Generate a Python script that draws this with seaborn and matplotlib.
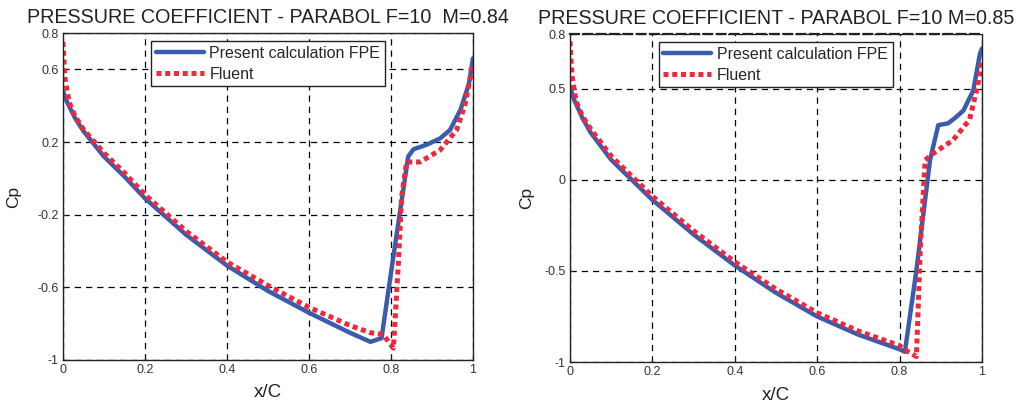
import matplotlib
matplotlib.use("Agg")
import matplotlib.pyplot as plt
import seaborn as sns
import pandas as pd

# ---- M = 0.84 ----
x_fpe_84 = [0.0, 0.01, 0.03, 0.05, 0.10, 0.15, 0.20, 0.30, 0.40, 0.50, 0.60, 0.70, 0.75,
            0.777, 0.80, 0.842, 0.855, 0.887, 0.92, 0.944, 0.97, 0.99, 1.0]
cp_fpe_84 = [0.48, 0.42, 0.33, 0.26, 0.12, 0.01, -0.11, -0.31, -0.48, -0.62, -0.74, -0.85, -0.90,
             -0.88, -0.52, 0.12, 0.16, 0.185, 0.22, 0.266, 0.38, 0.52, 0.66]
x_flu_84 = [0.0, 0.005, 0.015, 0.03, 0.05, 0.10, 0.15, 0.20, 0.30, 0.40, 0.50, 0.60, 0.70, 0.75,
            0.781, 0.806, 0.818, 0.826, 0.838, 0.871, 0.92, 0.96, 0.98, 1.0]
cp_flu_84 = [0.75, 0.55, 0.42, 0.34, 0.27, 0.14, 0.03, -0.09, -0.29, -0.46, -0.59, -0.71, -0.81, -0.85,
             -0.86, -0.935, -0.47, -0.10, 0.09, 0.09, 0.156, 0.266, 0.40, 0.63]

# ---- M = 0.85 ----
x_fpe_85 = [0.0, 0.01, 0.03, 0.05, 0.10, 0.15, 0.20, 0.30, 0.40, 0.50, 0.60, 0.70, 0.80,
            0.813, 0.841, 0.874, 0.894, 0.918, 0.935, 0.955, 0.979, 0.995, 1.0]
cp_fpe_85 = [0.51, 0.44, 0.34, 0.26, 0.11, 0.0, -0.11, -0.30, -0.47, -0.62, -0.75, -0.85, -0.93,
             -0.944, -0.495, 0.108, 0.30, 0.31, 0.34, 0.38, 0.49, 0.69, 0.72]
x_flu_85 = [0.0, 0.005, 0.015, 0.03, 0.05, 0.10, 0.15, 0.20, 0.30, 0.40, 0.50, 0.60, 0.70, 0.80,
            0.821, 0.841, 0.85, 0.862, 0.882, 0.93, 0.97, 0.99, 1.0]
cp_flu_85 = [0.76, 0.57, 0.43, 0.35, 0.28, 0.13, 0.02, -0.09, -0.28, -0.45, -0.60, -0.73, -0.83, -0.91,
             -0.944, -0.97, -0.40, 0.108, 0.145, 0.218, 0.33, 0.52, 0.66]

titles = ["PRESSURE COEFFICIENT - PARABOL F=10  M=0.84",
          "PRESSURE COEFFICIENT - PARABOL F=10 M=0.85"]
yticks_84 = [-1, -0.6, -0.2, 0.2, 0.6, 0.8]
yticks_85 = [-1, -0.5, 0, 0.5, 0.8]
ytick_labels_84 = ["-1", "-0.6", "-0.2", "0.2", "0.6", "0.8"]
ytick_labels_85 = ["-1", "-0.5", "0", "0.5", "0.8"]
xticks = [0, 0.2, 0.4, 0.6, 0.8, 1]
xtick_labels = ["0", "0.2", "0.4", "0.6", "0.8", "1"]
series_names = ["Present calculation FPE", "Fluent"]

BLUE = "#3a5cae"
RED = "#f0283a"

sns.set_style("ticks")
plt.rcParams["font.family"] = ["Liberation Sans", "DejaVu Sans"]

fig = plt.figure(figsize=(10.22, 4.03), dpi=100)
ax1 = fig.add_axes([0.0616, 0.1067, 0.4012, 0.8114])
ax2 = fig.add_axes([0.5577, 0.1017, 0.4031, 0.8139])

panels = [
    (ax1, x_fpe_84, cp_fpe_84, x_flu_84, cp_flu_84, yticks_84, ytick_labels_84, titles[0], 12),
    (ax2, x_fpe_85, cp_fpe_85, x_flu_85, cp_flu_85, yticks_85, ytick_labels_85, titles[1], 7.5),
]

for ax, xf, cf, xl, cl, yt, ytl, title, ypad in panels:
    df_f = pd.DataFrame({"x/C": xf, "Cp": cf})
    df_l = pd.DataFrame({"x/C": xl, "Cp": cl})
    sns.lineplot(data=df_f, x="x/C", y="Cp", sort=False, estimator=None, ax=ax,
                 color=BLUE, lw=3.2, label=series_names[0], solid_joinstyle="round")
    sns.lineplot(data=df_l, x="x/C", y="Cp", sort=False, estimator=None, ax=ax,
                 color=RED, lw=3.6, label=series_names[1],
                 linestyle=(0, (1.0, 0.75)), dash_capstyle="butt")
    ax.set_xlim(0, 1)
    ax.set_ylim(-1, 0.8)
    ax.set_xticks(xticks)
    ax.set_xticklabels(xtick_labels)
    ax.set_yticks(yt)
    ax.set_yticklabels(ytl)
    ax.tick_params(direction="in", length=3, width=0.8, labelsize=9,
                   labelcolor="#333333", color="#222222", pad=3)
    ax.grid(True, color="black", linestyle=(0, (5, 4)), linewidth=0.9)
    for side in ["left", "bottom", "right", "top"]:
        ax.spines[side].set_visible(True)
        ax.spines[side].set_color("#222222")
        ax.spines[side].set_linewidth(1.0)
    ax.set_xlabel("x/C", fontsize=13.5, color="#222222", labelpad=6)
    ax.set_ylabel("Cp", fontsize=12.5, color="#222222", labelpad=ypad)
    ax.set_title(title, fontsize=14.2, color="#222222", pad=7)
    leg = ax.legend(loc="upper left", bbox_to_anchor=(0.215, 0.975), fontsize=11.5,
                    handlelength=3.0, handletextpad=0.35, borderpad=0.3,
                    labelspacing=0.35, fancybox=False, framealpha=1, borderaxespad=0)
    leg.get_frame().set_edgecolor("#222222")
    leg.get_frame().set_linewidth(1.0)

ax2.spines["top"].set_linestyle((0, (4, 2)))
ax2.spines["top"].set_linewidth(1.6)

fig.savefig("out.png", dpi=100)
